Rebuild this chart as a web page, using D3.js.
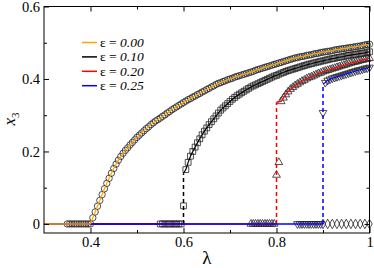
<!DOCTYPE html>
<html>
<head>
<meta charset="utf-8">
<script src="https://cdn.jsdelivr.net/npm/d3@7"></script>
<style>
  body { margin: 0; background: #fff; }
  svg { display: block; }
</style>
</head>
<body>
<div id="chart"></div>
<script>
const width = 374, height = 268;
const LEFT = 44, RIGHT = 369.5, TOP = 6.5, BOTTOM = 233;
const FONT = "'Liberation Serif', 'DejaVu Serif', 'Liberation Sans', serif";

// tick labels
const xTicks = [0.4, 0.6, 0.8, 1];
const xMinor = [0.5, 0.7, 0.9];
const yTicks = [0, 0.2, 0.4, 0.6];
const yMinor = [0.1, 0.3, 0.5];

const STEP = 0.005;

// eps = 0.00 : circles, start lambda 0.35
const lam00Start = 0.35;
const x3_00 = [0, 0, 0, 0, 0, 0, 0, 0, 0, 0, 0,
  0.017, 0.033, 0.049, 0.065, 0.081, 0.097, 0.112, 0.126, 0.140, 0.153,
  0.165, 0.176, 0.186, 0.195, 0.203, 0.210, 0.218, 0.225, 0.232, 0.239,
  0.245, 0.251, 0.257, 0.263, 0.268, 0.274, 0.279, 0.284, 0.288, 0.292,
  0.297, 0.301, 0.306, 0.310, 0.315, 0.319, 0.323, 0.327, 0.331, 0.335,
  0.339, 0.343, 0.346, 0.350, 0.353, 0.357, 0.360, 0.364, 0.367, 0.371,
  0.374, 0.378, 0.381, 0.385, 0.388, 0.390, 0.393, 0.395, 0.398, 0.400,
  0.402, 0.405, 0.407, 0.409, 0.411, 0.413, 0.415, 0.417, 0.419, 0.421,
  0.424, 0.426, 0.428, 0.430, 0.432, 0.434, 0.436, 0.438, 0.440, 0.442,
  0.444, 0.446, 0.448, 0.450, 0.452, 0.454, 0.456, 0.458, 0.459, 0.461,
  0.462, 0.463, 0.465, 0.466, 0.467, 0.469, 0.470, 0.471, 0.473, 0.474,
  0.475, 0.476, 0.477, 0.478, 0.480, 0.481, 0.482, 0.483, 0.484, 0.485,
  0.486, 0.487, 0.488, 0.489, 0.490, 0.491, 0.492, 0.494, 0.495, 0.496];

// eps = 0.10 : squares, start lambda 0.55
const lam10Start = 0.55;
const x3_10 = [0, 0, 0, 0, 0, 0, 0, 0, 0, 0,
  0.050, 0.150, 0.170, 0.187, 0.200, 0.212, 0.224, 0.235, 0.246, 0.256,
  0.265, 0.274, 0.282, 0.290, 0.298, 0.306, 0.314, 0.320, 0.326, 0.332,
  0.338, 0.344, 0.349, 0.354, 0.358, 0.362, 0.366, 0.370, 0.374, 0.378,
  0.381, 0.384, 0.387, 0.390, 0.393, 0.396, 0.399, 0.402, 0.405, 0.408,
  0.410, 0.413, 0.416, 0.418, 0.421, 0.423, 0.425, 0.427, 0.429, 0.431,
  0.433, 0.435, 0.437, 0.439, 0.441, 0.442, 0.444, 0.446, 0.447, 0.449,
  0.450, 0.452, 0.453, 0.455, 0.456, 0.457, 0.459, 0.460, 0.461, 0.462,
  0.464, 0.465, 0.466, 0.467, 0.468, 0.469, 0.470, 0.471, 0.472, 0.474,
  0.475];

// eps = 0.20 : up triangles, start lambda 0.745
const lam20Start = 0.745;
const x3_20 = [0, 0, 0, 0, 0, 0, 0, 0, 0, 0, 0,
  0.135, 0.170, 0.338, 0.348, 0.357, 0.365, 0.372, 0.377, 0.382, 0.386,
  0.390, 0.394, 0.397, 0.401, 0.404, 0.406, 0.409, 0.412, 0.415, 0.417,
  0.420, 0.422, 0.424, 0.426, 0.428, 0.430, 0.432, 0.434, 0.436, 0.438,
  0.440, 0.442, 0.444, 0.446, 0.447, 0.449, 0.451, 0.452, 0.454, 0.455,
  0.457];

// eps = 0.25 : down triangles, start lambda 0.845
const lam25Start = 0.845;
const x3_25 = [0, 0, 0, 0, 0, 0, 0, 0, 0, 0, 0,
  0.307, 0.390, 0.396, 0.399, 0.402, 0.404, 0.406, 0.408, 0.410, 0.412,
  0.414, 0.416, 0.418, 0.420, 0.422, 0.424, 0.425, 0.427, 0.429, 0.430,
  0.432];

// diamonds at zero, 0.90 .. 1.00
const lamDiamond = [0.90, 0.91, 0.92, 0.93, 0.94, 0.95, 0.96, 0.97, 0.98, 0.99, 1.00];
const x3_diamond = [0, 0, 0, 0, 0, 0, 0, 0, 0, 0, 0];

// theory lines: transition point, top of jump, first lambda of upper branch
const epsLabels = ["0.00", "0.10", "0.20", "0.25"];
const epsColors = ["#ffa500", "#000000", "#ff0000", "#0000ff"];
const lambdaC = [0.4, 0.6, 0.8, 0.9];
const jumpTop = [0, 0.14, 0.336, 0.386];
const branchFrom = [0.405, 0.605, 0.81, 0.905];

const x = d3.scaleLinear().domain([0.3, 1]).range([LEFT, RIGHT]);
const y = d3.scaleLinear().domain([-0.025, 0.6]).range([BOTTOM, TOP]);

const svg = d3.select("#chart").append("svg").attr("width", width).attr("height", height)
    .attr("font-family", FONT);

function toPoints(start, vals) {
    return vals.map((v, i) => [+(start + i * STEP).toFixed(3), v]);
}
const sets = [
    { pts: toPoints(lam00Start, x3_00), shape: d3.symbolCircle, size: 32, rot: 0 },
    { pts: toPoints(lam10Start, x3_10), shape: d3.symbolSquare, size: 34, rot: 0 },
    { pts: toPoints(lam20Start, x3_20), shape: d3.symbolTriangle, size: 26, rot: 0 },
    { pts: toPoints(lam25Start, x3_25), shape: d3.symbolTriangle, size: 26, rot: 180 },
    { pts: lamDiamond.map((l, i) => [l, x3_diamond[i]]), shape: d3.symbolDiamond, size: 26, rot: 0 }
];

// markers
sets.forEach(s => {
    svg.append("g").selectAll("path").data(s.pts).join("path")
        .attr("d", d3.symbol().type(s.shape).size(s.size))
        .attr("transform", d => `translate(${x(d[0])},${y(d[1])}) rotate(${s.rot})`)
        .attr("fill", "none").attr("stroke", "#222").attr("stroke-width", 0.8);
});

// theory lines (drawn black, red, blue, orange)
const line = d3.line().x(d => x(d[0])).y(d => y(d[1]));
[1, 2, 3, 0].forEach(k => {
    const g = svg.append("g");
    const lc = lambdaC[k];
    const curve = sets[k].pts.filter(d => d[0] >= branchFrom[k] - 1e-9);
    g.append("path").attr("d", line([[0.3, 0], [lc, 0]]))
        .attr("fill", "none").attr("stroke", epsColors[k]).attr("stroke-width", 1.5);
    if (jumpTop[k] > 0) {
        g.append("path").attr("d", line([[lc, 0], [lc, jumpTop[k]]]))
            .attr("fill", "none").attr("stroke", epsColors[k]).attr("stroke-width", 1.5)
            .attr("stroke-dasharray", "4,3");
    }
    g.append("path").attr("d", line([[lc, jumpTop[k]]].concat(curve)))
        .attr("fill", "none").attr("stroke", epsColors[k]).attr("stroke-width", 1.2);
});

// frame
svg.append("rect").attr("x", LEFT).attr("y", TOP).attr("width", RIGHT - LEFT).attr("height", BOTTOM - TOP)
    .attr("fill", "none").attr("stroke", "#000").attr("stroke-width", 1);

// axes
const fmt = d3.format("~g");
function styleAxis(g) {
    g.attr("font-family", FONT).attr("font-size", 14.5);
    g.select(".domain").remove();
    g.selectAll("line").attr("stroke", "#000");
    g.selectAll("text").attr("fill", "#000");
}
svg.append("g").attr("transform", `translate(0,${BOTTOM})`)
    .call(d3.axisBottom(x).tickValues(xTicks).tickSize(-5).tickPadding(4).tickFormat(fmt)).call(styleAxis);
svg.append("g").attr("transform", `translate(0,${BOTTOM})`)
    .call(d3.axisBottom(x).tickValues(xMinor).tickSize(-3).tickFormat("")).call(styleAxis);
svg.append("g").attr("transform", `translate(0,${TOP})`)
    .call(d3.axisTop(x).tickValues(xTicks).tickSize(-5).tickFormat("")).call(styleAxis);
svg.append("g").attr("transform", `translate(0,${TOP})`)
    .call(d3.axisTop(x).tickValues(xMinor).tickSize(-3).tickFormat("")).call(styleAxis);
svg.append("g").attr("transform", `translate(${LEFT},0)`)
    .call(d3.axisLeft(y).tickValues(yTicks).tickSize(-5).tickPadding(4).tickFormat(fmt)).call(styleAxis);
svg.append("g").attr("transform", `translate(${LEFT},0)`)
    .call(d3.axisLeft(y).tickValues(yMinor).tickSize(-3).tickFormat("")).call(styleAxis);
svg.append("g").attr("transform", `translate(${RIGHT},0)`)
    .call(d3.axisRight(y).tickValues(yTicks).tickSize(-5).tickFormat("")).call(styleAxis);
svg.append("g").attr("transform", `translate(${RIGHT},0)`)
    .call(d3.axisRight(y).tickValues(yMinor).tickSize(-3).tickFormat("")).call(styleAxis);

// axis titles
svg.append("text").attr("x", (LEFT + RIGHT) / 2).attr("y", 264)
    .attr("text-anchor", "middle").attr("font-size", 19).text("λ");
const yl = svg.append("text").attr("transform", "translate(15,119) rotate(-90)")
    .attr("text-anchor", "middle").attr("font-size", 17);
yl.append("tspan").attr("font-style", "italic").text("x");
yl.append("tspan").attr("font-size", 11).attr("dy", 4).text("3");

// legend
const leg = svg.append("g");
epsLabels.forEach((lab, i) => {
    const ly = 42.5 + i * 14.4;
    leg.append("line").attr("x1", 82).attr("x2", 97).attr("y1", ly).attr("y2", ly)
        .attr("stroke", epsColors[i]).attr("stroke-width", 1.5);
    const t = leg.append("text").attr("x", 100).attr("y", ly + 4.5).attr("font-size", 13.5);
    t.append("tspan").text("ε = ");
    t.append("tspan").attr("font-style", "italic").text(lab);
});
</script>
</body>
</html>
